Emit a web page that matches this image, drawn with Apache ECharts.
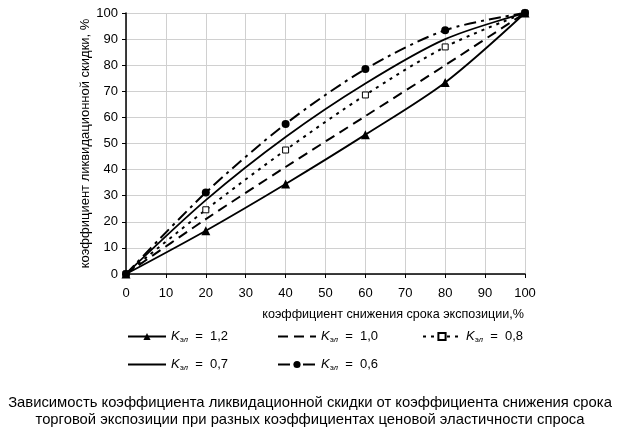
<!DOCTYPE html>
<html><head><meta charset="utf-8">
<script src="https://cdn.jsdelivr.net/npm/echarts@6/dist/echarts.min.js"></script>
<style>html,body{margin:0;padding:0;background:#fff}#c{width:620px;height:429px}</style>
</head><body><div id="c"></div>
<script>
const xValues = [0, 20, 40, 60, 80, 100];
const k12 = [0, 16.6, 34.5, 53.4, 73.4, 100];
const k10 = [0, 21, 41, 60.5, 80, 100];
const k08 = [0, 24.6, 47.5, 68.6, 87, 100];
const k07 = [0, 28.3, 52.5, 73, 90, 100];
const k06 = [0, 31.2, 57.5, 78.5, 93.4, 100];
const labels = ['1,2', '1,0', '0,8', '0,7', '0,6'];
const xTicks = [0,10,20,30,40,50,60,70,80,90,100];

const FONT = 'Liberation Sans, Arial, sans-serif';
const pair = arr => xValues.map((x,i)=>[x,arr[i]]);
const baseLine = {type:'line', smooth:0.3, color:'#000', z:3};

const series = [
  Object.assign({}, baseLine, {name:labels[0], data:pair(k12), symbol:'triangle', symbolSize:9,
    lineStyle:{color:'#000', width:1.8, type:'solid'}, itemStyle:{color:'#000'}}),
  Object.assign({}, baseLine, {name:labels[1], data:pair(k10), symbol:'none',
    lineStyle:{color:'#000', width:2, type:[10,6]}}),
  Object.assign({}, baseLine, {name:labels[2], data:pair(k08), symbol:'rect', symbolSize:6,
    lineStyle:{color:'#000', width:2, type:[3,5]}, itemStyle:{color:'#fff', borderColor:'#000', borderWidth:1}}),
  Object.assign({}, baseLine, {name:labels[3], data:pair(k07), symbol:'none',
    lineStyle:{color:'#000', width:1.8, type:'solid'}}),
  Object.assign({}, baseLine, {name:labels[4], data:pair(k06), symbol:'circle', symbolSize:8,
    lineStyle:{color:'#000', width:2, type:[12,5,3,5]}, itemStyle:{color:'#000'}})
];

const legendPos = [[127,329],[277,329],[422,329],[127,357],[277,357]];
const noSymbol = [false, true, false, true, false];
const rich = {
  k:{fontFamily:FONT, fontSize:13, fontStyle:'italic', color:'#000', lineHeight:16},
  s:{fontFamily:FONT, fontSize:8, fontStyle:'italic', color:'#000', lineHeight:16, padding:[7,0,0,0]},
  t:{fontFamily:FONT, fontSize:13, color:'#000', lineHeight:16}
};
const legends = labels.map((l,i)=>{
  const lg = {
    data:[l], left:legendPos[i][0], top:legendPos[i][1], padding:0,
    itemWidth:38, itemHeight:9, itemGap:5,
    formatter: n => '{k|K}{s|эл}{t|  =  ' + n + '}',
    textStyle:{rich, color:'#000'}
  };
  if (noSymbol[i]) lg.itemStyle = {color:'rgba(0,0,0,0)', borderColor:'rgba(0,0,0,0)', borderWidth:0, opacity:0};
  return lg;
});

const chart = echarts.init(document.getElementById('c'), null, {renderer:'canvas'});
chart.setOption({
  animation:false,
  backgroundColor:'#fff',
  grid:{left:126, right:95, top:13, bottom:155, containLabel:false},
  legend: legends,
  xAxis:{type:'value', min:0, max:100, interval:10,
    name:'коэффициент снижения срока экспозиции,%', nameLocation:'end', nameGap:-1,
    nameTextStyle:{fontFamily:FONT, fontSize:12.6, color:'#000', align:'right', verticalAlign:'top', padding:[34,0,0,0]},
    axisLine:{lineStyle:{color:'#000', width:1.5}},
    axisTick:{show:true, length:4, lineStyle:{color:'#000'}},
    axisLabel:{fontFamily:FONT, fontSize:13, color:'#000', margin:13, formatter: v => xTicks.includes(v) ? String(v) : ''},
    splitLine:{show:true, lineStyle:{color:'#d0d0d0', width:1}}
  },
  yAxis:{type:'value', min:0, max:100, interval:10,
    name:'коэффициент ликвидационной скидки, %', nameLocation:'middle', nameGap:34, nameMoveOverlap:false,
    nameTextStyle:{fontFamily:FONT, fontSize:13, color:'#000'},
    axisLine:{show:true, lineStyle:{color:'#000', width:1.5}},
    axisTick:{show:true, length:4, lineStyle:{color:'#000'}},
    axisLabel:{fontFamily:FONT, fontSize:13, color:'#000', margin:8},
    splitLine:{show:true, lineStyle:{color:'#d0d0d0', width:1}}
  },
  title:{text:'Зависимость коэффициента ликвидационной скидки от коэффициента снижения срока\nторговой экспозиции при разных коэффициентах ценовой эластичности спроса',
    left:'center', top:395, padding:0,
    textStyle:{fontFamily:FONT, fontSize:14.8, fontWeight:'normal', color:'#000', lineHeight:16.5, align:'center'}},
  series
});
</script></body></html>
